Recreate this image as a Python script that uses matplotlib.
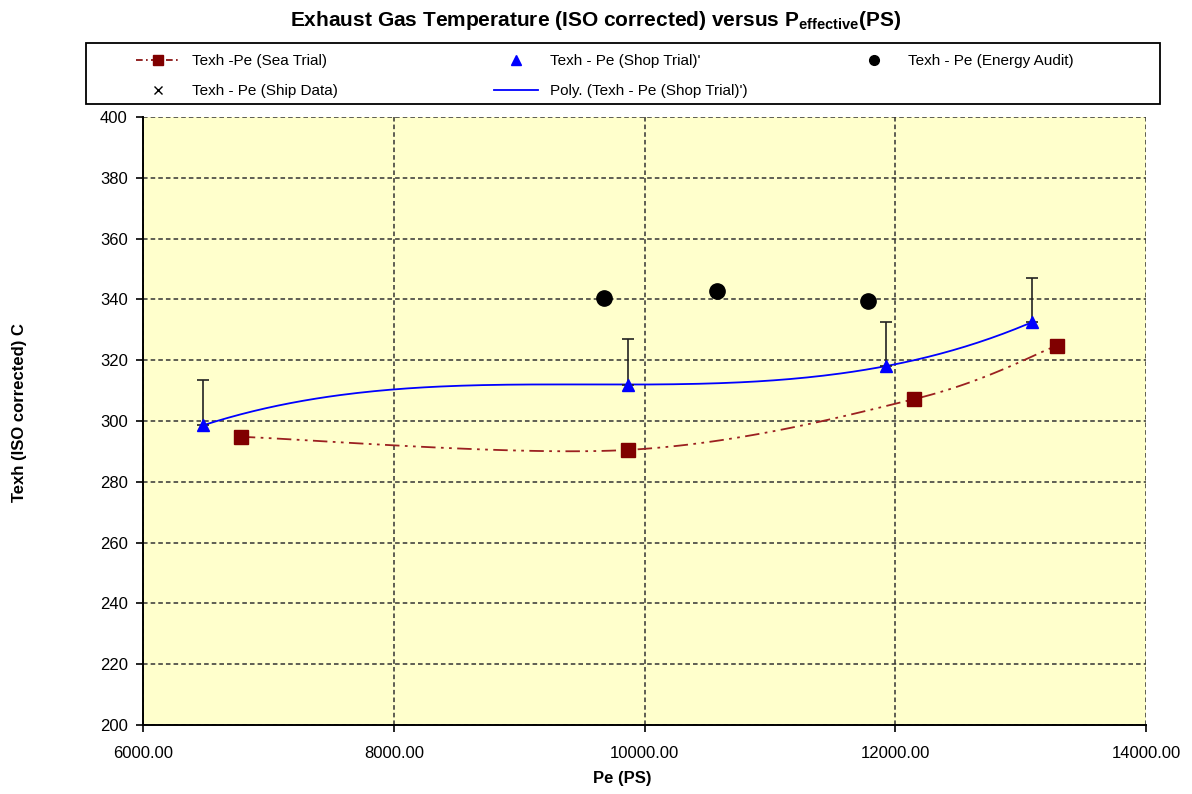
import numpy as np
import matplotlib
matplotlib.use("Agg")
import matplotlib.pyplot as plt
from matplotlib.lines import Line2D
from matplotlib.patches import Rectangle

plt.rcParams['font.family'] = ['Liberation Sans', 'DejaVu Sans']
plt.rcParams['mathtext.fontset'] = 'custom'
plt.rcParams['mathtext.rm'] = 'Liberation Sans'
plt.rcParams['mathtext.bf'] = 'Liberation Sans:bold'

# ---- data ----
sea_pe = [6780, 9870, 12150, 13290]
sea_t = [294.8, 290.5, 307.2, 324.8]

shop_pe = [6480, 9870, 11930, 13090]
shop_t = [298.6, 312.0, 318.1, 332.5]
shop_err = [15, 15, 14.5, 14.5]

audit_pe = [9680, 10580, 11785]
audit_t = [340.5, 342.8, 339.5]

ship_pe = []
ship_t = []

x_ticks = [6000, 8000, 10000, 12000, 14000]
y_ticks = [200, 220, 240, 260, 280, 300, 320, 340, 360, 380, 400]


def smooth(xs, ys, n=40):
    xs = np.asarray(xs, float); ys = np.asarray(ys, float)
    P = np.column_stack([xs, ys])
    out = []
    for i in range(len(P) - 1):
        p0 = P[i - 1] if i > 0 else P[i]
        p1 = P[i]; p2 = P[i + 1]
        p3 = P[i + 2] if i + 2 < len(P) else P[i + 1]
        c1 = p1 + (p2 - p0) / 6.0
        c2 = p2 - (p3 - p1) / 6.0
        t = np.linspace(0, 1, n)[:, None]
        seg = ((1 - t) ** 3) * p1 + 3 * ((1 - t) ** 2) * t * c1 + 3 * (1 - t) * t ** 2 * c2 + t ** 3 * p2
        out.append(seg)
    a = np.vstack(out)
    return a[:, 0], a[:, 1]


fig = plt.figure(figsize=(11.92, 7.94), dpi=100)
ax = fig.add_axes([0.12, 0.0869, 0.8414, 0.7657])
ax.set_facecolor('#FFFFCC')

# Sea trial smoothed line
sx, sy = smooth(sea_pe, sea_t)
sea_color = '#800000'
ax.plot(sx, sy, color='#9B2020', lw=1.3, dashes=(8, 3, 1.5, 3, 1.5, 3), zorder=3)
ax.plot(sea_pe, sea_t, ls='none', marker='s', color=sea_color, ms=9.5, zorder=5)

# Shop trial poly trendline (order 3)
coef = np.polyfit(shop_pe, shop_t, 3)
px = np.linspace(min(shop_pe), max(shop_pe), 200)
ax.plot(px, np.polyval(coef, px), color='#0000FF', lw=1.3, zorder=3)

# Shop trial points + upper error bars
ax.errorbar(shop_pe, shop_t, yerr=[np.zeros(len(shop_err)), shop_err], fmt='none',
            ecolor='#222222', elinewidth=1.2, capsize=4, capthick=1.2, zorder=4)
ax.plot(shop_pe, shop_t, ls='none', marker='^', color='#0000FF', ms=9, zorder=6)

# Energy audit
ax.plot(audit_pe, audit_t, ls='none', marker='o', color='black', ms=11, zorder=6)

# Ship data (no points)
ax.plot(ship_pe, ship_t, ls='none', marker='x', color='black')

ax.set_xlim(6000, 14000)
ax.set_ylim(200, 400)
ax.set_xticks(x_ticks)
ax.set_xticklabels([f"{v:.2f}" for v in x_ticks])
ax.set_yticks(y_ticks)
ax.tick_params(direction='out', length=5, width=1.2, labelsize=12, colors='black', pad=6)
ax.tick_params(axis='x', pad=10)
ax.grid(True, color='#333333', lw=1.1, linestyle=(0, (3, 2)))
ax.set_axisbelow(True)
for s in ['top', 'right']:
    ax.spines[s].set_visible(False)
for s in ['left', 'bottom']:
    ax.spines[s].set_linewidth(1.4)
    ax.spines[s].set_color('black')

fig.text(622 / 1192, 1 - 778 / 794, 'Pe (PS)', fontsize=12, fontweight='bold', ha='center', va='center')
fig.text(20 / 1192, 1 - 413 / 794, 'Texh (ISO corrected) C', fontsize=12, fontweight='bold',
         ha='center', va='center', rotation=90)

fig.text(0.5, 1 - 20 / 794, r"Exhaust Gas Temperature (ISO corrected) versus P$_{\mathbf{effective}}$(PS)",
         ha='center', va='center', fontsize=15, fontweight='bold')

# Legend frame
fig.patches.append(Rectangle((86 / 1192, 1 - 104 / 794), (1160 - 86) / 1192, 61 / 794,
                             transform=fig.transFigure, fill=False, edgecolor='black', lw=1.3))

h_sea = Line2D([], [], color=sea_color, marker='s', ms=7, lw=1.2, dashes=(4, 2, 1, 2))
h_shop = Line2D([], [], color='#0000FF', marker='^', ms=7, ls='none')
h_audit = Line2D([], [], color='black', marker='o', ms=7, ls='none')
h_ship = Line2D([], [], color='black', marker='x', ms=6, ls='none')
h_poly = Line2D([], [], color='#0000FF', lw=1.3)

columns = [
    ([h_sea, h_ship], ['Texh -Pe (Sea Trial)', 'Texh - Pe (Ship Data)'], 136),
    ([h_shop, h_poly], ["Texh - Pe (Shop Trial)'", "Poly. (Texh - Pe (Shop Trial)')"], 494),
    ([h_audit], ['Texh - Pe (Energy Audit)'], 852),
]
for hs, ls_, xpix in columns:
    lg = fig.legend(hs, ls_, loc='upper left', bbox_to_anchor=(xpix / 1192, 1 - 54 / 794),
                    fontsize=11, frameon=False, handlelength=2.9, handletextpad=0.75,
                    borderaxespad=0, borderpad=0, labelspacing=1.05)

fig.savefig('out.png', dpi=100)
